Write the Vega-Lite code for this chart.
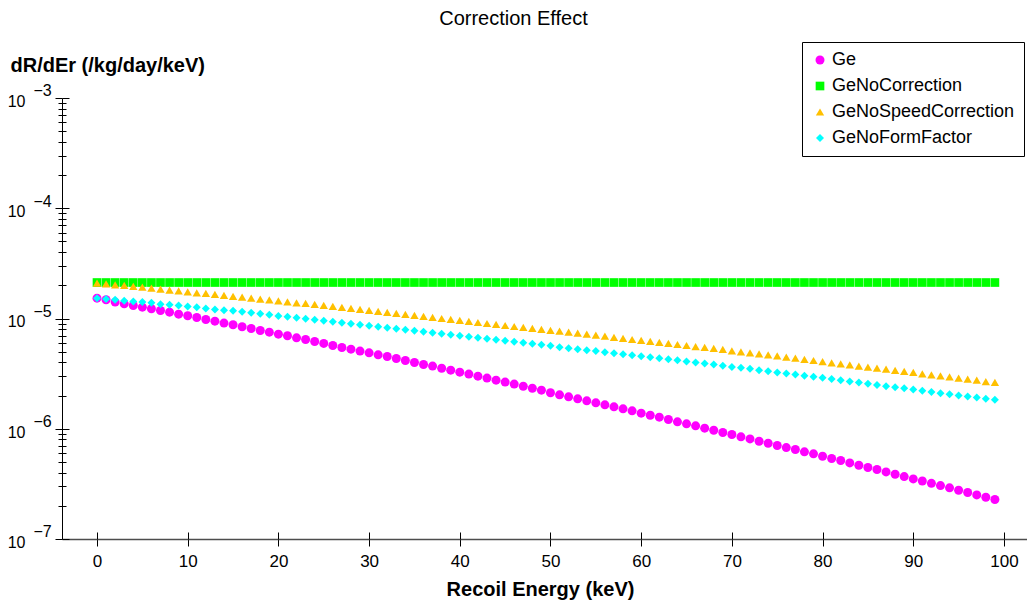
{
"$schema":"https://vega.github.io/schema/vega-lite/v6.json",
"width":965,"height":441,
"autosize":{"type":"none"},
"padding":{"left":62,"top":98,"right":0,"bottom":64},
"background":"white",
"title":{"text":"Correction Effect","fontSize":20,"fontWeight":"normal","font":"Liberation Sans","color":"black","anchor":"middle","dx":-31,"offset":13},
"config":{"view":{"stroke":null},"font":"Liberation Sans","axis":{"grid":false,"tickColor":"black","domainColor":"black","labelColor":"black","titleColor":"black","labelFont":"Liberation Sans","titleFont":"Liberation Sans"}},
"resolve":{"axis":{"x":"independent","y":"independent"}},
"layer":[
{
"data":{"values":[
{"E":0,"Ge":1.530e-5,"GeNoCorrection":2.12e-5,"GeNoSpeedCorrection":2.093e-5,"GeNoFormFactor":1.530e-5},
{"E":1,"Ge":1.478e-5,"GeNoCorrection":2.12e-5,"GeNoSpeedCorrection":2.065e-5,"GeNoFormFactor":1.499e-5},
{"E":2,"Ge":1.408e-5,"GeNoCorrection":2.12e-5,"GeNoSpeedCorrection":2.022e-5,"GeNoFormFactor":1.478e-5},
{"E":3,"Ge":1.359e-5,"GeNoCorrection":2.12e-5,"GeNoSpeedCorrection":1.994e-5,"GeNoFormFactor":1.447e-5},
{"E":4,"Ge":1.313e-5,"GeNoCorrection":2.12e-5,"GeNoSpeedCorrection":1.953e-5,"GeNoFormFactor":1.427e-5},
{"E":5,"Ge":1.268e-5,"GeNoCorrection":2.12e-5,"GeNoSpeedCorrection":1.926e-5,"GeNoFormFactor":1.408e-5},
{"E":6,"Ge":1.225e-5,"GeNoCorrection":2.12e-5,"GeNoSpeedCorrection":1.886e-5,"GeNoFormFactor":1.388e-5},
{"E":7,"Ge":1.183e-5,"GeNoCorrection":2.12e-5,"GeNoSpeedCorrection":1.847e-5,"GeNoFormFactor":1.350e-5},
{"E":8,"Ge":1.142e-5,"GeNoCorrection":2.12e-5,"GeNoSpeedCorrection":1.809e-5,"GeNoFormFactor":1.331e-5},
{"E":9,"Ge":1.095e-5,"GeNoCorrection":2.12e-5,"GeNoSpeedCorrection":1.784e-5,"GeNoFormFactor":1.313e-5},
{"E":10,"Ge":1.058e-5,"GeNoCorrection":2.12e-5,"GeNoSpeedCorrection":1.747e-5,"GeNoFormFactor":1.286e-5},
{"E":11,"Ge":1.022e-5,"GeNoCorrection":2.12e-5,"GeNoSpeedCorrection":1.711e-5,"GeNoFormFactor":1.268e-5},
{"E":12,"Ge":9.80e-6,"GeNoCorrection":2.12e-5,"GeNoSpeedCorrection":1.687e-5,"GeNoFormFactor":1.233e-5},
{"E":13,"Ge":9.46e-6,"GeNoCorrection":2.12e-5,"GeNoSpeedCorrection":1.652e-5,"GeNoFormFactor":1.208e-5},
{"E":14,"Ge":9.08e-6,"GeNoCorrection":2.12e-5,"GeNoSpeedCorrection":1.618e-5,"GeNoFormFactor":1.191e-5},
{"E":15,"Ge":8.77e-6,"GeNoCorrection":2.12e-5,"GeNoSpeedCorrection":1.584e-5,"GeNoFormFactor":1.174e-5},
{"E":16,"Ge":8.41e-6,"GeNoCorrection":2.12e-5,"GeNoSpeedCorrection":1.563e-5,"GeNoFormFactor":1.150e-5},
{"E":17,"Ge":8.12e-6,"GeNoCorrection":2.12e-5,"GeNoSpeedCorrection":1.530e-5,"GeNoFormFactor":1.126e-5},
{"E":18,"Ge":7.79e-6,"GeNoCorrection":2.12e-5,"GeNoSpeedCorrection":1.499e-5,"GeNoFormFactor":1.103e-5},
{"E":19,"Ge":7.52e-6,"GeNoCorrection":2.12e-5,"GeNoSpeedCorrection":1.478e-5,"GeNoFormFactor":1.080e-5},
{"E":20,"Ge":7.21e-6,"GeNoCorrection":2.12e-5,"GeNoSpeedCorrection":1.447e-5,"GeNoFormFactor":1.051e-5},
{"E":21,"Ge":6.97e-6,"GeNoCorrection":2.12e-5,"GeNoSpeedCorrection":1.417e-5,"GeNoFormFactor":1.036e-5},
{"E":22,"Ge":6.68e-6,"GeNoCorrection":2.12e-5,"GeNoSpeedCorrection":1.388e-5,"GeNoFormFactor":1.015e-5},
{"E":23,"Ge":6.45e-6,"GeNoCorrection":2.12e-5,"GeNoSpeedCorrection":1.369e-5,"GeNoFormFactor":9.94e-6},
{"E":24,"Ge":6.19e-6,"GeNoCorrection":2.12e-5,"GeNoSpeedCorrection":1.341e-5,"GeNoFormFactor":9.73e-6},
{"E":25,"Ge":5.94e-6,"GeNoCorrection":2.12e-5,"GeNoSpeedCorrection":1.313e-5,"GeNoFormFactor":9.53e-6},
{"E":26,"Ge":5.69e-6,"GeNoCorrection":2.12e-5,"GeNoSpeedCorrection":1.286e-5,"GeNoFormFactor":9.33e-6},
{"E":27,"Ge":5.46e-6,"GeNoCorrection":2.12e-5,"GeNoSpeedCorrection":1.259e-5,"GeNoFormFactor":9.14e-6},
{"E":28,"Ge":5.27e-6,"GeNoCorrection":2.12e-5,"GeNoSpeedCorrection":1.233e-5,"GeNoFormFactor":8.95e-6},
{"E":29,"Ge":5.06e-6,"GeNoCorrection":2.12e-5,"GeNoSpeedCorrection":1.208e-5,"GeNoFormFactor":8.77e-6},
{"E":30,"Ge":4.88e-6,"GeNoCorrection":2.12e-5,"GeNoSpeedCorrection":1.183e-5,"GeNoFormFactor":8.58e-6},
{"E":31,"Ge":4.68e-6,"GeNoCorrection":2.12e-5,"GeNoSpeedCorrection":1.158e-5,"GeNoFormFactor":8.41e-6},
{"E":32,"Ge":4.52e-6,"GeNoCorrection":2.12e-5,"GeNoSpeedCorrection":1.134e-5,"GeNoFormFactor":8.23e-6},
{"E":33,"Ge":4.34e-6,"GeNoCorrection":2.12e-5,"GeNoSpeedCorrection":1.111e-5,"GeNoFormFactor":8.06e-6},
{"E":34,"Ge":4.16e-6,"GeNoCorrection":2.12e-5,"GeNoSpeedCorrection":1.088e-5,"GeNoFormFactor":7.90e-6},
{"E":35,"Ge":3.99e-6,"GeNoCorrection":2.12e-5,"GeNoSpeedCorrection":1.065e-5,"GeNoFormFactor":7.73e-6},
{"E":36,"Ge":3.83e-6,"GeNoCorrection":2.12e-5,"GeNoSpeedCorrection":1.043e-5,"GeNoFormFactor":7.57e-6},
{"E":37,"Ge":3.70e-6,"GeNoCorrection":2.12e-5,"GeNoSpeedCorrection":1.022e-5,"GeNoFormFactor":7.42e-6},
{"E":38,"Ge":3.54e-6,"GeNoCorrection":2.12e-5,"GeNoSpeedCorrection":1.000e-5,"GeNoFormFactor":7.26e-6},
{"E":39,"Ge":3.40e-6,"GeNoCorrection":2.12e-5,"GeNoSpeedCorrection":9.80e-6,"GeNoFormFactor":7.11e-6},
{"E":40,"Ge":3.26e-6,"GeNoCorrection":2.12e-5,"GeNoSpeedCorrection":9.60e-6,"GeNoFormFactor":6.97e-6},
{"E":41,"Ge":3.13e-6,"GeNoCorrection":2.12e-5,"GeNoSpeedCorrection":9.40e-6,"GeNoFormFactor":6.82e-6},
{"E":42,"Ge":3.00e-6,"GeNoCorrection":2.12e-5,"GeNoSpeedCorrection":9.20e-6,"GeNoFormFactor":6.68e-6},
{"E":43,"Ge":2.88e-6,"GeNoCorrection":2.12e-5,"GeNoSpeedCorrection":9.01e-6,"GeNoFormFactor":6.54e-6},
{"E":44,"Ge":2.76e-6,"GeNoCorrection":2.12e-5,"GeNoSpeedCorrection":8.83e-6,"GeNoFormFactor":6.41e-6},
{"E":45,"Ge":2.65e-6,"GeNoCorrection":2.12e-5,"GeNoSpeedCorrection":8.64e-6,"GeNoFormFactor":6.27e-6},
{"E":46,"Ge":2.54e-6,"GeNoCorrection":2.12e-5,"GeNoSpeedCorrection":8.46e-6,"GeNoFormFactor":6.15e-6},
{"E":47,"Ge":2.43e-6,"GeNoCorrection":2.12e-5,"GeNoSpeedCorrection":8.29e-6,"GeNoFormFactor":6.02e-6},
{"E":48,"Ge":2.33e-6,"GeNoCorrection":2.12e-5,"GeNoSpeedCorrection":8.12e-6,"GeNoFormFactor":5.89e-6},
{"E":49,"Ge":2.24e-6,"GeNoCorrection":2.12e-5,"GeNoSpeedCorrection":7.95e-6,"GeNoFormFactor":5.77e-6},
{"E":50,"Ge":2.12e-6,"GeNoCorrection":2.12e-5,"GeNoSpeedCorrection":7.79e-6,"GeNoFormFactor":5.65e-6},
{"E":51,"Ge":2.03e-6,"GeNoCorrection":2.12e-5,"GeNoSpeedCorrection":7.68e-6,"GeNoFormFactor":5.50e-6},
{"E":52,"Ge":1.947e-6,"GeNoCorrection":2.12e-5,"GeNoSpeedCorrection":7.52e-6,"GeNoFormFactor":5.38e-6},
{"E":53,"Ge":1.867e-6,"GeNoCorrection":2.12e-5,"GeNoSpeedCorrection":7.37e-6,"GeNoFormFactor":5.27e-6},
{"E":54,"Ge":1.791e-6,"GeNoCorrection":2.12e-5,"GeNoSpeedCorrection":7.21e-6,"GeNoFormFactor":5.16e-6},
{"E":55,"Ge":1.718e-6,"GeNoCorrection":2.12e-5,"GeNoSpeedCorrection":7.07e-6,"GeNoFormFactor":5.06e-6},
{"E":56,"Ge":1.647e-6,"GeNoCorrection":2.12e-5,"GeNoSpeedCorrection":6.92e-6,"GeNoFormFactor":4.95e-6},
{"E":57,"Ge":1.580e-6,"GeNoCorrection":2.12e-5,"GeNoSpeedCorrection":6.73e-6,"GeNoFormFactor":4.85e-6},
{"E":58,"Ge":1.515e-6,"GeNoCorrection":2.12e-5,"GeNoSpeedCorrection":6.59e-6,"GeNoFormFactor":4.75e-6},
{"E":59,"Ge":1.453e-6,"GeNoCorrection":2.12e-5,"GeNoSpeedCorrection":6.45e-6,"GeNoFormFactor":4.65e-6},
{"E":60,"Ge":1.384e-6,"GeNoCorrection":2.12e-5,"GeNoSpeedCorrection":6.32e-6,"GeNoFormFactor":4.55e-6},
{"E":61,"Ge":1.327e-6,"GeNoCorrection":2.12e-5,"GeNoSpeedCorrection":6.19e-6,"GeNoFormFactor":4.46e-6},
{"E":62,"Ge":1.273e-6,"GeNoCorrection":2.12e-5,"GeNoSpeedCorrection":6.06e-6,"GeNoFormFactor":4.37e-6},
{"E":63,"Ge":1.213e-6,"GeNoCorrection":2.12e-5,"GeNoSpeedCorrection":5.94e-6,"GeNoFormFactor":4.28e-6},
{"E":64,"Ge":1.155e-6,"GeNoCorrection":2.12e-5,"GeNoSpeedCorrection":5.81e-6,"GeNoFormFactor":4.19e-6},
{"E":65,"Ge":1.108e-6,"GeNoCorrection":2.12e-5,"GeNoSpeedCorrection":5.69e-6,"GeNoFormFactor":4.07e-6},
{"E":66,"Ge":1.062e-6,"GeNoCorrection":2.12e-5,"GeNoSpeedCorrection":5.57e-6,"GeNoFormFactor":3.99e-6},
{"E":67,"Ge":1.012e-6,"GeNoCorrection":2.12e-5,"GeNoSpeedCorrection":5.46e-6,"GeNoFormFactor":3.91e-6},
{"E":68,"Ge":9.70e-7,"GeNoCorrection":2.12e-5,"GeNoSpeedCorrection":5.35e-6,"GeNoFormFactor":3.83e-6},
{"E":69,"Ge":9.24e-7,"GeNoCorrection":2.12e-5,"GeNoSpeedCorrection":5.24e-6,"GeNoFormFactor":3.72e-6},
{"E":70,"Ge":8.86e-7,"GeNoCorrection":2.12e-5,"GeNoSpeedCorrection":5.09e-6,"GeNoFormFactor":3.64e-6},
{"E":71,"Ge":8.44e-7,"GeNoCorrection":2.12e-5,"GeNoSpeedCorrection":4.99e-6,"GeNoFormFactor":3.57e-6},
{"E":72,"Ge":8.09e-7,"GeNoCorrection":2.12e-5,"GeNoSpeedCorrection":4.88e-6,"GeNoFormFactor":3.50e-6},
{"E":73,"Ge":7.71e-7,"GeNoCorrection":2.12e-5,"GeNoSpeedCorrection":4.78e-6,"GeNoFormFactor":3.40e-6},
{"E":74,"Ge":7.39e-7,"GeNoCorrection":2.12e-5,"GeNoSpeedCorrection":4.68e-6,"GeNoFormFactor":3.33e-6},
{"E":75,"Ge":7.04e-7,"GeNoCorrection":2.12e-5,"GeNoSpeedCorrection":4.59e-6,"GeNoFormFactor":3.24e-6},
{"E":76,"Ge":6.75e-7,"GeNoCorrection":2.12e-5,"GeNoSpeedCorrection":4.46e-6,"GeNoFormFactor":3.17e-6},
{"E":77,"Ge":6.48e-7,"GeNoCorrection":2.12e-5,"GeNoSpeedCorrection":4.37e-6,"GeNoFormFactor":3.11e-6},
{"E":78,"Ge":6.17e-7,"GeNoCorrection":2.12e-5,"GeNoSpeedCorrection":4.25e-6,"GeNoFormFactor":3.02e-6},
{"E":79,"Ge":5.92e-7,"GeNoCorrection":2.12e-5,"GeNoSpeedCorrection":4.16e-6,"GeNoFormFactor":2.96e-6},
{"E":80,"Ge":5.63e-7,"GeNoCorrection":2.12e-5,"GeNoSpeedCorrection":4.07e-6,"GeNoFormFactor":2.90e-6},
{"E":81,"Ge":5.37e-7,"GeNoCorrection":2.12e-5,"GeNoSpeedCorrection":3.96e-6,"GeNoFormFactor":2.82e-6},
{"E":82,"Ge":5.15e-7,"GeNoCorrection":2.12e-5,"GeNoSpeedCorrection":3.88e-6,"GeNoFormFactor":2.76e-6},
{"E":83,"Ge":4.90e-7,"GeNoCorrection":2.12e-5,"GeNoSpeedCorrection":3.80e-6,"GeNoFormFactor":2.68e-6},
{"E":84,"Ge":4.67e-7,"GeNoCorrection":2.12e-5,"GeNoSpeedCorrection":3.70e-6,"GeNoFormFactor":2.63e-6},
{"E":85,"Ge":4.45e-7,"GeNoCorrection":2.12e-5,"GeNoSpeedCorrection":3.62e-6,"GeNoFormFactor":2.56e-6},
{"E":86,"Ge":4.27e-7,"GeNoCorrection":2.12e-5,"GeNoSpeedCorrection":3.54e-6,"GeNoFormFactor":2.50e-6},
{"E":87,"Ge":4.06e-7,"GeNoCorrection":2.12e-5,"GeNoSpeedCorrection":3.47e-6,"GeNoFormFactor":2.43e-6},
{"E":88,"Ge":3.87e-7,"GeNoCorrection":2.12e-5,"GeNoSpeedCorrection":3.38e-6,"GeNoFormFactor":2.38e-6},
{"E":89,"Ge":3.68e-7,"GeNoCorrection":2.12e-5,"GeNoSpeedCorrection":3.31e-6,"GeNoFormFactor":2.33e-6},
{"E":90,"Ge":3.51e-7,"GeNoCorrection":2.12e-5,"GeNoSpeedCorrection":3.24e-6,"GeNoFormFactor":2.27e-6},
{"E":91,"Ge":3.36e-7,"GeNoCorrection":2.12e-5,"GeNoSpeedCorrection":3.15e-6,"GeNoFormFactor":2.21e-6},
{"E":92,"Ge":3.20e-7,"GeNoCorrection":2.12e-5,"GeNoSpeedCorrection":3.08e-6,"GeNoFormFactor":2.16e-6},
{"E":93,"Ge":3.05e-7,"GeNoCorrection":2.12e-5,"GeNoSpeedCorrection":3.02e-6,"GeNoFormFactor":2.10e-6},
{"E":94,"Ge":2.91e-7,"GeNoCorrection":2.12e-5,"GeNoSpeedCorrection":2.96e-6,"GeNoFormFactor":2.06e-6},
{"E":95,"Ge":2.77e-7,"GeNoCorrection":2.12e-5,"GeNoSpeedCorrection":2.88e-6,"GeNoFormFactor":2.00e-6},
{"E":96,"Ge":2.64e-7,"GeNoCorrection":2.12e-5,"GeNoSpeedCorrection":2.82e-6,"GeNoFormFactor":1.961e-6},
{"E":97,"Ge":2.51e-7,"GeNoCorrection":2.12e-5,"GeNoSpeedCorrection":2.76e-6,"GeNoFormFactor":1.920e-6},
{"E":98,"Ge":2.39e-7,"GeNoCorrection":2.12e-5,"GeNoSpeedCorrection":2.68e-6,"GeNoFormFactor":1.867e-6},
{"E":99,"Ge":2.28e-7,"GeNoCorrection":2.12e-5,"GeNoSpeedCorrection":2.63e-6,"GeNoFormFactor":1.829e-6}
]},
"transform":[{"fold":["Ge","GeNoCorrection","GeNoSpeedCorrection","GeNoFormFactor"],"as":["series","rate"]}],
"mark":{"type":"point","filled":true,"opacity":1,"strokeWidth":0},
"encoding":{
"x":{"field":"E","type":"quantitative","scale":{"domain":[-3.86,102.54],"nice":false,"zero":false},
"axis":{"orient":"bottom","values":[0,10,20,30,40,50,60,70,80,90,100],"tickSize":7,"tickWidth":1,"domainColor":"#4d4d4d","domainWidth":1.5,"labelFontSize":17,"labelPadding":7,"labelFlush":false,"labelOverlap":false,"title":"Recoil Energy (keV)","titleFontSize":20,"titleFontWeight":"bold","titleX":478,"titleY":56,"titleAlign":"center","titleBaseline":"alphabetic"}},
"y":{"field":"rate","type":"quantitative","scale":{"type":"log","domain":[1e-7,1e-3],"nice":false},
"axis":{"orient":"left","values":[1e-7,1e-6,1e-5,1e-4,1e-3],"labelExpr":"'10'","tickSize":7,"labelFontSize":16,"labelPadding":30,"labelBaseline":"alphabetic","labelOffset":8.4,"labelFlush":false,"labelOverlap":false,"title":"dR/dEr (/kg/day/keV)","titleFontSize":20,"titleFontWeight":"bold","titleAngle":0,"titleX":-52,"titleY":-27,"titleAlign":"left","titleBaseline":"alphabetic"}},
"color":{"field":"series","type":"nominal","scale":{"domain":["Ge","GeNoCorrection","GeNoSpeedCorrection","GeNoFormFactor"],"range":["#ff00ff","#00ff00","#ffc000","#00ffff"]},
"legend":{"title":null,"orient":"none","legendX":740,"legendY":-56,"padding":9,"strokeColor":"black","fillColor":"white","labelFontSize":18,"labelColor":"black","symbolSize":64,"rowPadding":8,"labelOffset":3,"symbolStrokeWidth":0,"cornerRadius":0,"labelLimit":300}},
"shape":{"field":"series","type":"nominal","scale":{"domain":["Ge","GeNoCorrection","GeNoSpeedCorrection","GeNoFormFactor"],"range":["circle","square","triangle-up","diamond"]},
"legend":{"title":null,"orient":"none","legendX":740,"legendY":-56,"padding":9,"strokeColor":"black","fillColor":"white","labelFontSize":18,"labelColor":"black","symbolSize":64,"rowPadding":8,"labelOffset":3,"symbolStrokeWidth":0,"cornerRadius":0,"labelLimit":300}},
"size":{"field":"series","type":"nominal","scale":{"domain":["Ge","GeNoCorrection","GeNoSpeedCorrection","GeNoFormFactor"],"range":[81,64,50,55]},"legend":null},
"order":{"field":"series"}
}
},
{
"data":{"values":[{"t":1e-7,"e":"−7"},{"t":1e-6,"e":"−6"},{"t":1e-5,"e":"−5"},{"t":1e-4,"e":"−4"},{"t":1e-3,"e":"−3"}]},
"mark":{"type":"text","align":"right","baseline":"alphabetic","dx":-10.3,"dy":-1.6,"fontSize":16,"color":"black","font":"Liberation Sans"},
"encoding":{
"x":{"datum":-3.86,"type":"quantitative","scale":{"domain":[-3.86,102.54],"nice":false,"zero":false},"axis":{"orient":"top","offset":-441,"values":[0,10,20,30,40,50,60,70,80,90,100],"tickSize":7,"labels":false,"domain":false,"title":null}},
"y":{"field":"t","type":"quantitative","scale":{"type":"log","domain":[1e-7,1e-3],"nice":false},"axis":{"orient":"left","values":[2e-7,3e-7,4e-7,5e-7,6e-7,7e-7,8e-7,9e-7,2e-6,3e-6,4e-6,5e-6,6e-6,7e-6,8e-6,9e-6,2e-5,3e-5,4e-5,5e-5,6e-5,7e-5,8e-5,9e-5,2e-4,3e-4,4e-4,5e-4,6e-4,7e-4,8e-4,9e-4],"tickSize":4,"labels":false,"domain":false,"title":null}},
"text":{"field":"e"}
}
},
{
"data":{"values":[{"t":1e-7},{"t":1e-3}]},
"mark":{"type":"point","opacity":0},
"encoding":{
"x":{"datum":-3.86,"type":"quantitative","scale":{"domain":[-3.86,102.54],"nice":false,"zero":false},"axis":null},
"y":{"field":"t","type":"quantitative","scale":{"type":"log","domain":[1e-7,1e-3],"nice":false},"axis":{"orient":"right","offset":-965,"values":[1e-7,1e-6,1e-5,1e-4,1e-3],"tickSize":7,"labels":false,"domain":false,"title":null}}
}
},
{
"data":{"values":[{"t":1e-7},{"t":1e-3}]},
"mark":{"type":"point","opacity":0},
"encoding":{
"x":{"datum":-3.86,"type":"quantitative","scale":{"domain":[-3.86,102.54],"nice":false,"zero":false},"axis":null},
"y":{"field":"t","type":"quantitative","scale":{"type":"log","domain":[1e-7,1e-3],"nice":false},"axis":{"orient":"right","offset":-965,"values":[2e-7,3e-7,4e-7,5e-7,6e-7,7e-7,8e-7,9e-7,2e-6,3e-6,4e-6,5e-6,6e-6,7e-6,8e-6,9e-6,2e-5,3e-5,4e-5,5e-5,6e-5,7e-5,8e-5,9e-5,2e-4,3e-4,4e-4,5e-4,6e-4,7e-4,8e-4,9e-4],"tickSize":4,"labels":false,"domain":false,"title":null}}
}
}
]
}
